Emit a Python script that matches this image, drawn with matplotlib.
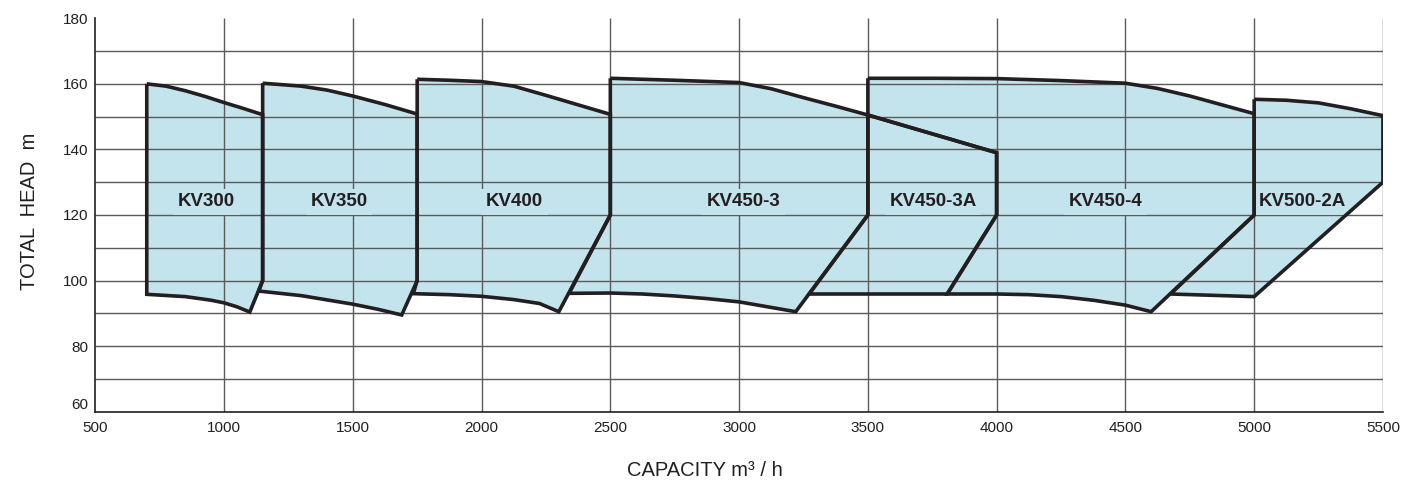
import numpy as np
import matplotlib
matplotlib.use("Agg")
import matplotlib.pyplot as plt
import matplotlib.transforms as mtransforms

# pump ranges, boundary points (capacity m3/h, head m)
kv300_x = [700, 775, 850, 925, 1000, 1075, 1150, 1150, 1100, 1050, 1000, 950, 850, 700]
kv300_y = [160, 159.3, 157.9, 156.2, 154.3, 152.5, 150.6, 100, 90.4, 92.0, 93.2, 94.0, 95.1, 95.8]

kv350_x = [1150, 1300, 1400, 1500, 1625, 1750, 1750, 1690, 1600, 1500, 1400, 1300, 1135, 1150]
kv350_y = [160.2, 159.3, 158.1, 156.3, 153.7, 150.8, 100, 89.5, 91.2, 92.8, 94.1, 95.4, 96.8, 100]

kv400_x = [1750, 1875, 2000, 2125, 2250, 2375, 2500, 2500, 2300, 2225, 2125, 2000, 1875, 1735, 1750]
kv400_y = [161.4, 161.1, 160.7, 159.3, 156.5, 153.6, 150.7, 120, 90.5, 93.0, 94.2, 95.2, 95.7, 96.0, 100]

kv450_3_x = [2500, 2750, 3000, 3125, 3250, 3375, 3500, 3500, 3220, 3110, 3000, 2875, 2750, 2625, 2500, 2340, 2500]
kv450_3_y = [161.7, 161.1, 160.4, 158.5, 155.8, 153.2, 150.5, 120, 90.5, 92.0, 93.5, 94.5, 95.3, 95.9, 96.2, 96.1, 120]

kv450_3a_x = [3500, 4000, 4000, 3808, 3272, 3500]
kv450_3a_y = [150.5, 139, 120, 95.9, 95.9, 120]

kv450_4_x = [3500, 3750, 4000, 4250, 4500, 4625, 4750, 4875, 5000, 5000, 4600, 4500, 4375, 4250, 4125, 4000, 3808, 4000, 4000, 3500]
kv450_4_y = [161.7, 161.7, 161.6, 161.0, 160.2, 158.6, 156.3, 153.6, 150.9, 120, 90.5, 92.5, 94.0, 95.1, 95.7, 95.9, 95.9, 120, 139, 150.5]

kv500_2a_x = [5000, 5125, 5250, 5375, 5500, 5500, 5000, 4675, 5000]
kv500_2a_y = [155.3, 155.0, 154.2, 152.4, 150.3, 130, 95.1, 95.9, 120]

names = ["KV300", "KV350", "KV400", "KV450-3", "KV450-3A", "KV450-4", "KV500-2A"]
label_x = [932, 1446, 2127, 3016, 3753, 4422, 5189]
label_y = 124

x_ticks = [500, 1000, 1500, 2000, 2500, 3000, 3500, 4000, 4500, 5000, 5500]
y_ticks = [60, 80, 100, 120, 140, 160, 180]

fill_col = "#c4e4ed"
dark = "#231f20"
grid_col = "#5a5a5a"
narrow = ["Liberation Sans Narrow", "Liberation Sans", "DejaVu Sans"]

fig = plt.figure(figsize=(14.26, 4.84), dpi=100)
ax = fig.add_axes([0.0668, 0.1494, 0.9030, 0.8128])

shapes = [(kv300_x, kv300_y), (kv350_x, kv350_y), (kv400_x, kv400_y),
          (kv450_3_x, kv450_3_y), (kv450_3a_x, kv450_3a_y),
          (kv450_4_x, kv450_4_y), (kv500_2a_x, kv500_2a_y)]
for xs, ys in shapes:
    ax.fill(xs, ys, color=fill_col, lw=0, zorder=1)
for xs, ys in shapes:
    ax.plot(xs + xs[:1], ys + ys[:1], color=dark, lw=2.6, zorder=4,
            solid_joinstyle="miter", solid_capstyle="butt")

# grid (no line on top at 180)
ax.hlines(np.arange(70, 180, 10), x_ticks[0], x_ticks[-1], color=grid_col, lw=1.0, zorder=2)
ax.vlines(x_ticks[1:], y_ticks[0], y_ticks[-1], color=grid_col, lw=1.0, zorder=2)

for name, lx in zip(names, label_x):
    ax.text(lx, label_y, name, ha="center", va="center", fontsize=13.5, fontweight="bold",
            family=narrow, color=dark, zorder=3,
            bbox=dict(boxstyle="square,pad=0.25", fc=fill_col, ec="none"))

ax.set_xlim(x_ticks[0], x_ticks[-1])
ax.set_ylim(y_ticks[0], y_ticks[-1])
ax.set_xticks(x_ticks)
ax.set_yticks(y_ticks)
ax.tick_params(length=0, labelsize=11, colors=dark, pad=7)
ax.tick_params(axis="y", pad=5)
for lab in ax.get_xticklabels() + ax.get_yticklabels():
    lab.set_family(narrow)

# the 60 label sits a bit above the axis
lab60 = ax.get_yticklabels()[0]
lab60.set_transform(lab60.get_transform() + mtransforms.ScaledTranslation(0, 8 / 100, fig.dpi_scale_trans))

for s in ["top", "right"]:
    ax.spines[s].set_visible(False)
for s in ["left", "bottom"]:
    ax.spines[s].set_color(dark)
    ax.spines[s].set_linewidth(1.2)

fig.text(30 / 1426, 1 - 211 / 484, "TOTAL  HEAD  m", rotation=90, ha="center", va="center",
         fontsize=14.5, family=["Liberation Sans", "DejaVu Sans"], color=dark)
fig.text(705 / 1426, 1 - 470 / 484, "CAPACITY m³ / h", ha="center", va="center",
         fontsize=14.5, family=["Liberation Sans", "DejaVu Sans"], color=dark)

fig.savefig("out.png", dpi=100)
